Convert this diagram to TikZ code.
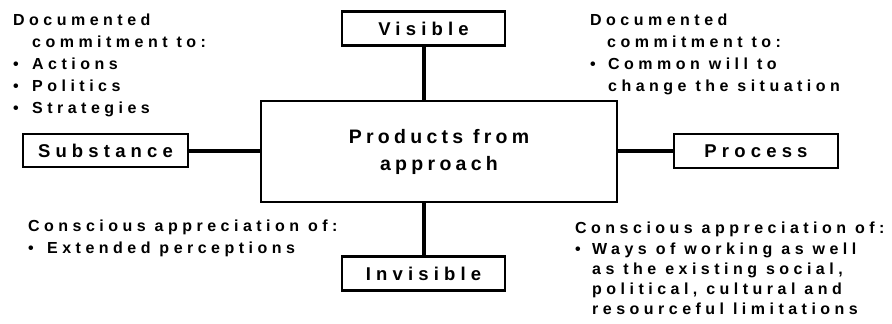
\documentclass[tikz,border=0pt]{standalone}
\usepackage{fontspec}
\usetikzlibrary{calc}
\newfontfamily\chartfont{Liberation Sans Bold}[LetterSpace=28]
\newfontfamily\hubfont{Liberation Sans Bold}[LetterSpace=22]
\definecolor{ink}{HTML}{000000}
\tikzset{
    tag box/.style={draw=ink, fill=white, line width=2.2pt,
                    minimum width=163pt, minimum height=34pt, inner sep=0pt,
                    font=\chartfont\fontsize{18.5}{22}\selectfont,
                    text=ink},
    hub box/.style={draw=ink, fill=white, line width=2.2pt,
                    minimum width=356pt, minimum height=101pt, inner sep=0pt,
                    align=center,
                    font=\hubfont\fontsize{19.5}{27}\selectfont,
                    text=ink},
    link/.style={ink, line width=4pt},
    note text/.style={anchor=north west, inner sep=0pt, align=left,
                      font=\chartfont\fontsize{16}{22}\selectfont,
                      text=ink},
}
\newcommand{\dotin}[1]{\makebox[#1][l]{•}}

\begin{document}
\begin{tikzpicture}[x=1pt, y=-1pt]
\useasboundingbox (0,0) rectangle (892,324);

% Central product and the four dimensions around it.
\node[hub box] (hub) at (439,151.5) {Products from\\approach};
\node[tag box] (visible) at (423.5,28.5) {Visible};
\node[tag box] (invisible) at (423.5,273.5) {Invisible};
\node[tag box, minimum width=165pt, minimum height=33pt]
    (substance) at (105.5,150.5) {Substance};
\node[tag box, minimum width=164pt] (process) at (756,151) {Process};

\draw[link] (visible.south) -- (visible.south |- hub.north);
\draw[link] (invisible.north) -- (invisible.north |- hub.south);
\draw[link] (substance.east) -- (substance.east -| hub.west);
\draw[link] (process.west) -- (process.west -| hub.east);

% Notes in the four corners.
\node[note text] (subnote) at (13,14)
    {Documented\\
     \hspace*{19pt}commitment to:\\
     \dotin{19pt}Actions\\
     \dotin{19pt}Politics\\
     \dotin{19pt}Strategies};
\node[note text] (procnote) at (590,14)
    {Documented\\
     \hspace*{17pt}commitment to:\\
     \dotin{18pt}Common will to\\
     \hspace*{18pt}change the situation};
\node[note text] (invnote) at (28,220)
    {Conscious appreciation of:\\
     \dotin{19pt}Extended perceptions};
\node[note text, font=\chartfont\fontsize{16}{20.3}\selectfont]
    (worknote) at (575,222)
    {Conscious appreciation of:\\
     \dotin{17pt}Ways of working as well\\
     \hspace*{17pt}as the existing social,\\
     \hspace*{17pt}political, cultural and\\
     \hspace*{17pt}resourceful limitations};

\end{tikzpicture}
\end{document}
